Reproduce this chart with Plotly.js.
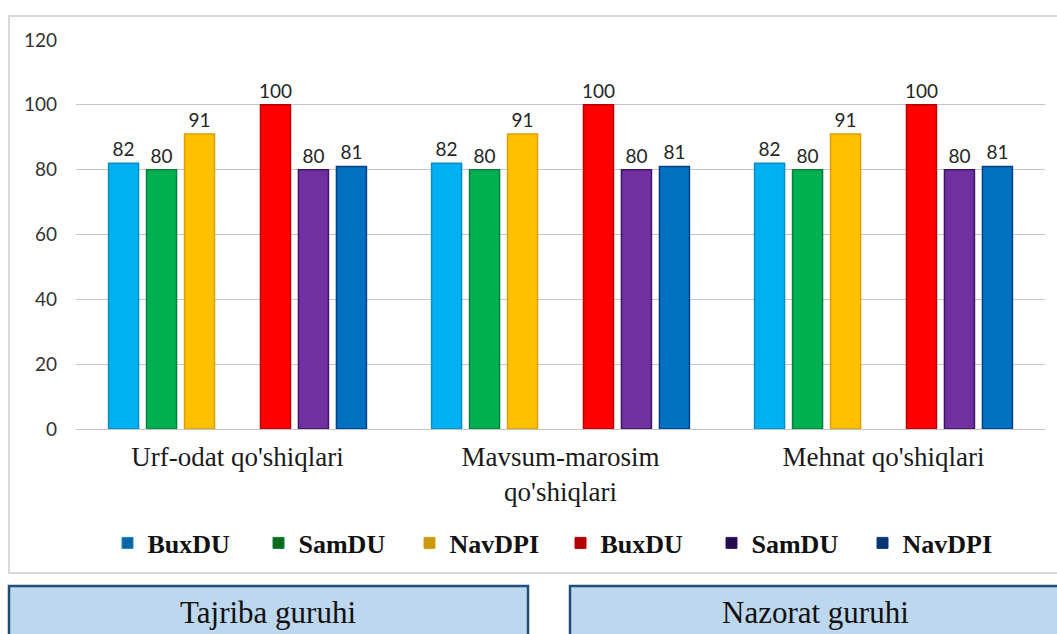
<!DOCTYPE html>
<html>
<head>
<meta charset="utf-8">
<script src="https://cdn.plot.ly/plotly-3.0.1.min.js"></script>
<style>html,body{margin:0;padding:0;background:#fff;}#chart{width:1057px;height:634px;}</style>
</head>
<body>
<div id="chart"></div>
<script>
// ---- data ----
var categories = ["Urf-odat qo'shiqlari", "Mavsum-marosim<br>qo'shiqlari", "Mehnat qo'shiqlari"];
var seriesNames = ["BuxDU", "SamDU", "NavDPI", "BuxDU", "SamDU", "NavDPI"];
var tajribaBuxDU = [82, 82, 82];
var tajribaSamDU = [80, 80, 80];
var tajribaNavDPI = [91, 91, 91];
var nazoratBuxDU = [100, 100, 100];
var nazoratSamDU = [80, 80, 80];
var nazoratNavDPI = [81, 81, 81];
var yTicks = [0, 20, 40, 60, 80, 100, 120];
var groupLabels = ["Tajriba guruhi", "Nazorat guruhi"];

// ---- styles ----
var barColors = ["#00B0F0", "#00B050", "#FFC000", "#FF0000", "#7030A0", "#0070C0"];
var barEdges = ["#0a8cc4", "#04803a", "#d9a000", "#b80000", "#3d1466", "#063f85"];
var legendColors = ["#0b63a8", "#0b6a1c", "#c8980e", "#b40000", "#220c50", "#0b3272"];
var SERIF = '"Liberation Serif", "Times New Roman", serif';
var SANS = 'Lato, sans-serif';

var seriesValues = [tajribaBuxDU, tajribaSamDU, tajribaNavDPI, nazoratBuxDU, nazoratSamDU, nazoratNavDPI];
var traces = [];
function barTrace(i) {
  return {
    type: 'bar', x: categories, y: seriesValues[i], name: seriesNames[i],
    showlegend: false,
    marker: {color: barColors[i], line: {color: barEdges[i], width: 1.5}},
    text: seriesValues[i].map(String),
    textposition: 'outside', constraintext: 'none',
    textfont: {family: SANS, size: 19, color: '#262626'},
    cliponaxis: false, hoverinfo: 'x+y+name'
  };
}
for (var i = 0; i < 3; i++) traces.push(barTrace(i));
// empty slot between the two groups
traces.push({type: 'bar', x: categories, y: categories.map(function(){return null;}), showlegend: false, hoverinfo: 'skip', name: ''});
for (var i = 3; i < 6; i++) traces.push(barTrace(i));
// legend entries
for (var i = 0; i < 6; i++) {
  traces.push({type: 'scatter', mode: 'markers', x: [null], y: [null], name: seriesNames[i],
    marker: {symbol: 'square', size: 11, color: legendColors[i], line: {color: barEdges[i], width: 1}},
    hoverinfo: 'skip'});
}

var W = 969, H = 389, L = 76, T = 40; // plot area px
function px(x) { return (x - L) / W; }
function py(y) { return (T + H - y) / H; }

var layout = {
  width: 1057, height: 634,
  margin: {l: 76, r: 12, t: 40, b: 205},
  paper_bgcolor: '#ffffff', plot_bgcolor: '#ffffff',
  barmode: 'group', bargap: 0.177, bargroupgap: 0.21,
  showlegend: true,
  legend: {orientation: 'h', x: 0.5, xanchor: 'center', y: py(543), yanchor: 'middle',
    bgcolor: 'rgba(0,0,0,0)',
    font: {family: SERIF, size: 26, color: '#111111', weight: 'bold'},
    entrywidth: 106, entrywidthmode: 'pixels', itemwidth: 30, traceorder: 'normal'},
  xaxis: {type: 'category', showgrid: false, zeroline: false, showline: false, ticks: '',
    tickfont: {family: SERIF, size: 27, color: '#1a1a1a'},
    ticklabelstandoff: 9, fixedrange: true},
  yaxis: {range: [0, 120], tickvals: yTicks, ticktext: yTicks.map(String), showgrid: true,
    gridcolor: '#c4c4c4', gridwidth: 1, zeroline: true, zerolinecolor: '#c4c4c4', zerolinewidth: 1,
    showline: false, ticks: '',
    tickfont: {family: SANS, size: 19, color: '#333333'},
    ticklabelstandoff: 18, fixedrange: true},
  shapes: [
    {type: 'rect', xref: 'paper', yref: 'paper', x0: px(9), x1: px(1070), y0: py(16), y1: py(573),
      line: {color: '#d9d9d9', width: 2}, fillcolor: 'rgba(0,0,0,0)', layer: 'below'},
    {type: 'rect', xref: 'paper', yref: 'paper', x0: px(9), x1: px(528), y0: py(586), y1: py(645),
      line: {color: '#1f4e79', width: 2.5}, fillcolor: '#bdd7ee'},
    {type: 'rect', xref: 'paper', yref: 'paper', x0: px(570), x1: px(1070), y0: py(586), y1: py(645),
      line: {color: '#1f4e79', width: 2.5}, fillcolor: '#bdd7ee'}
  ],
  annotations: [
    {xref: 'paper', yref: 'paper', x: px(268), y: py(612), text: groupLabels[0], showarrow: false,
      xanchor: 'center', yanchor: 'middle',
      font: {family: SERIF, size: 31, color: '#111111'}},
    {xref: 'paper', yref: 'paper', x: px(815), y: py(612), text: groupLabels[1], showarrow: false,
      xanchor: 'center', yanchor: 'middle',
      font: {family: SERIF, size: 31, color: '#111111'}}
  ]
};

Plotly.newPlot('chart', traces, layout, {displayModeBar: false, staticPlot: true});
</script>
</body>
</html>
